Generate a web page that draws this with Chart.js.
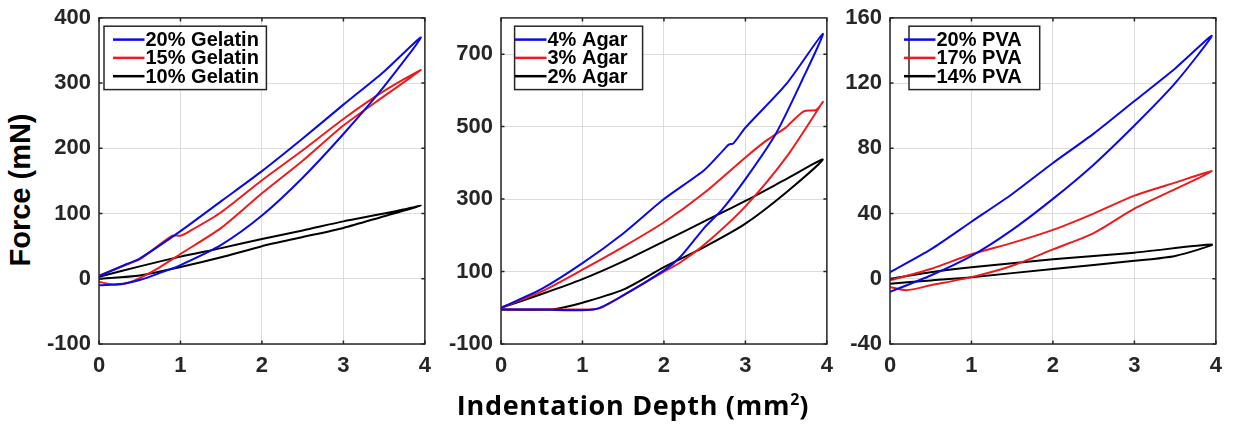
<!DOCTYPE html>
<html>
<head>
<meta charset="utf-8">
<script src="https://cdn.jsdelivr.net/npm/chart.js@4.4.0/dist/chart.umd.min.js"></script>
<style>
html, body { margin: 0; padding: 0; background: #fff; }
#wrap { position: relative; width: 1239px; height: 427px; overflow: hidden; }
canvas { position: absolute; top: 0; }
#ylab {
    position: absolute; left: 20px; top: 190px;
    transform: translate(-50%, -50%) rotate(-90deg);
    font: bold 29px "Liberation Sans", Arial, sans-serif; line-height: 1;
    white-space: nowrap; color: #000;
}
#xlab {
    position: absolute; left: 633px; top: 391px;
    transform: translateX(-50%);
    font: bold 27px "Open Sans", Lato, sans-serif; line-height: 1;
    letter-spacing: 0.7px;
    white-space: nowrap; color: #000;
}
#xlab sup { font-size: 16px; vertical-align: 10px; line-height: 0; letter-spacing: 0; }
</style>
</head>
<body>
<div id="wrap">
    <canvas id="c1" width="403" height="380" style="left:40px"></canvas>
    <canvas id="c2" width="403" height="380" style="left:442px"></canvas>
    <canvas id="c3" width="403" height="380" style="left:831px"></canvas>
    <div id="ylab">Force (mN)</div>
    <div id="xlab">Indentation Depth (mm<sup>2</sup>)</div>
</div>
<script>
// depth ticks shared by all panels
const depthTicks = [0, 1, 2, 3, 4];

// gelatin panel (loading then unloading)
const gelTicks = [-100, 0, 100, 200, 300, 400];
const gelLabels = ["20% Gelatin", "15% Gelatin", "10% Gelatin"];
const gel20Depth = [0, 0.35, 0.5, 1, 1.5, 2, 2.5, 3, 3.5, 3.95, 3.5, 3, 2.5, 2, 1.5, 1, 0.75, 0.5, 0.3, 0];
const gel20Force = [4, 23, 31, 73, 119, 165, 215, 267, 318, 370, 295, 222, 155, 97, 52, 21, 9, -2, -7.5, -10];
const gel15Depth = [0, 0.3, 0.5, 0.9, 1.0, 1.1, 1.5, 2, 2.5, 3, 3.5, 3.95, 3.5, 3, 2.5, 2, 1.5, 1, 0.75, 0.5, 0.35, 0.2, 0];
const gel15Force = [5, 20, 30, 66, 66, 72, 102, 151, 197, 245, 288, 320, 280, 235, 181, 131, 78, 38, 18, 1, -6.5, -9, -5];
const gel10Depth = [0, 0.5, 1, 1.5, 2, 2.5, 3, 3.5, 3.95, 3.5, 3, 2.5, 2, 1.5, 1, 0.5, 0];
const gel10Force = [3, 19, 34, 47, 61, 74, 88, 100, 112, 96, 78, 64, 50, 33, 18, 5, 0];

// agar panel
const agarTicks = [-100, 100, 300, 500, 700];
const agarLabels = ["4% Agar", "3% Agar", "2% Agar"];
const agar4Depth = [0, 0.5, 1, 1.5, 2, 2.5, 2.75, 2.8, 2.85, 3, 3.5, 3.95, 3.7, 3.37, 3, 2.71, 2.5, 2.2, 2, 1.5, 1.15, 0.5, 0];
const agar4Force = [0, 52, 123, 205, 300, 381, 440, 451, 453, 497, 617, 756, 630, 479, 355, 270, 222, 140, 103, 34, -4, -5, -5];
const agar3Depth = [0, 0.5, 1, 1.5, 2, 2.5, 3, 3.26, 3.5, 3.54, 3.72, 3.86, 3.9, 3.95, 3.5, 3, 2.5, 2.2, 2, 1.5, 1.25, 1.15, 0.5, 0];
const agar3Force = [0, 45, 105, 168, 236, 318, 415, 462, 498, 507, 543, 545, 552, 568, 415, 280, 175, 125, 100, 34, 2, -4, -5, -5];
const agar2Depth = [0, 0.5, 1, 1.5, 2, 2.5, 3, 3.5, 3.95, 3.5, 3, 2.5, 2, 1.5, 1, 0.75, 0.6, 0];
const agar2Force = [0, 38, 79, 128, 183, 239, 295, 355, 409, 318, 232, 168, 112, 50, 14, 0, -5, -5];

// PVA panel
const pvaTicks = [-40, 0, 40, 80, 120, 160];
const pvaLabels = ["20% PVA", "17% PVA", "14% PVA"];
const pva20Depth = [0, 0.5, 1, 1.5, 2, 2.5, 3, 3.5, 3.95, 3.5, 3, 2.5, 2, 1.5, 1, 0.5, 0];
const pva20Force = [4, 18, 35, 52, 71, 89, 109, 129, 149, 120, 94, 70, 49, 30, 14, 2, -8];
const pva17Depth = [0, 0.5, 1, 1.5, 2, 2.5, 3, 3.5, 3.95, 3.5, 3, 2.5, 2, 1.5, 1, 0.5, 0.2, 0];
const pva17Force = [-1, 6, 15, 22, 30, 40, 51, 59, 66, 55, 43, 28, 18, 8, 1, -4, -7, -5];
const pva14Depth = [0, 0.5, 1, 2, 3, 3.95, 3.5, 3, 2, 1, 0.5, 0];
const pva14Force = [0, 4, 7, 12, 16, 21, 14, 11, 6, 1, -1, -3];

const colors = ["#0a0ae6", "#ec1c1c", "#000000"];
const tickFont = { family: '"Liberation Sans", Arial, sans-serif', size: 22, weight: "bold", lineHeight: 0.9 };

// box round the plot with small inward ticks, like matlab
const framePlugin = {
    id: "frame",
    afterDatasetsDraw(chart) {
        const { ctx, chartArea: a, scales } = chart;
        ctx.save();
        ctx.strokeStyle = "#262626";
        ctx.lineWidth = 1.5;
        ctx.strokeRect(a.left, a.top, a.right - a.left, a.bottom - a.top);
        ctx.beginPath();
        scales.x.ticks.forEach((t) => {
            const px = scales.x.getPixelForValue(t.value);
            ctx.moveTo(px, a.bottom); ctx.lineTo(px, a.bottom - 3.5);
            ctx.moveTo(px, a.top); ctx.lineTo(px, a.top + 3.5);
        });
        scales.y.ticks.forEach((t) => {
            const py = scales.y.getPixelForValue(t.value);
            ctx.moveTo(a.left, py); ctx.lineTo(a.left + 3.5, py);
            ctx.moveTo(a.right, py); ctx.lineTo(a.right - 3.5, py);
        });
        ctx.stroke();
        ctx.restore();
    },
};

// legend box in the top-left corner of the plot
const boxLegend = {
    id: "boxLegend",
    afterDraw(chart, args, opts) {
        const { ctx, chartArea: a } = chart;
        const x0 = a.left + opts.left;
        const x1 = a.left + opts.right;
        const y0 = a.top + 8.3;
        const y1 = a.top + 71.7;
        ctx.save();
        ctx.fillStyle = "#fff";
        ctx.fillRect(x0, y0, x1 - x0, y1 - y0);
        ctx.strokeStyle = "#262626";
        ctx.lineWidth = 1.5;
        ctx.strokeRect(x0, y0, x1 - x0, y1 - y0);
        chart.data.datasets.forEach((ds, i) => {
            const y = a.top + 21.7 + i * 18.3;
            ctx.strokeStyle = ds.borderColor;
            ctx.lineWidth = 2.5;
            ctx.beginPath();
            ctx.moveTo(a.left + 14, y);
            ctx.lineTo(a.left + 45.5, y);
            ctx.stroke();
            ctx.fillStyle = "#000";
            ctx.font = 'bold 20px "Liberation Sans", Arial, sans-serif';
            ctx.textBaseline = "middle";
            ctx.fillText(ds.label, a.left + 46.5, y + 1);
        });
        ctx.restore();
    },
};

const makeSet = (label, depth, force, i) => ({
    label: label,
    data: depth.map((d, k) => ({ x: d, y: force[k] })),
    showLine: true,
    borderColor: colors[i],
    backgroundColor: colors[i],
    borderWidth: 2,
    pointRadius: 0,
    tension: 0.25,
    fill: false,
});

const drawPanel = (id, sets, yTicks, yMin, yMax, legendBox) => {
    const config = {
        type: "scatter",
        data: { datasets: sets },
        options: {
            responsive: false,
            animation: false,
            layout: { padding: { top: 10, right: 10, left: 0, bottom: 0 } },
            plugins: {
                legend: { display: false },
                tooltip: { enabled: false },
                boxLegend: legendBox,
            },
            scales: {
                x: {
                    type: "linear",
                    min: 0,
                    max: 4,
                    afterBuildTicks: (s) => { s.ticks = depthTicks.map((v) => ({ value: v })); },
                    afterFit: (s) => { s.height = 36; },
                    ticks: { color: "#262626", font: tickFont, padding: 12, maxRotation: 0 },
                    grid: { color: "#dcdcdc", lineWidth: 1, drawTicks: false },
                    border: { display: false },
                },
                y: {
                    type: "linear",
                    min: yMin,
                    max: yMax,
                    afterBuildTicks: (s) => { s.ticks = yTicks.map((v) => ({ value: v })); },
                    afterFit: (s) => { s.width = 59; },
                    ticks: { color: "#262626", font: tickFont, padding: 8 },
                    grid: { color: "#dcdcdc", lineWidth: 1, drawTicks: false },
                    border: { display: false },
                },
            },
        },
        plugins: [framePlugin, boxLegend],
    };
    return new Chart(document.getElementById(id), config);
};

drawPanel("c1", [
    makeSet(gelLabels[0], gel20Depth, gel20Force, 0),
    makeSet(gelLabels[1], gel15Depth, gel15Force, 1),
    makeSet(gelLabels[2], gel10Depth, gel10Force, 2),
], gelTicks, -100, 400, { left: 5, right: 167.4 });

drawPanel("c2", [
    makeSet(agarLabels[0], agar4Depth, agar4Force, 0),
    makeSet(agarLabels[1], agar3Depth, agar3Force, 1),
    makeSet(agarLabels[2], agar2Depth, agar2Force, 2),
], agarTicks, -100, 800, { left: 13.6, right: 141.6 });

drawPanel("c3", [
    makeSet(pvaLabels[0], pva20Depth, pva20Force, 0),
    makeSet(pvaLabels[1], pva17Depth, pva17Force, 1),
    makeSet(pvaLabels[2], pva14Depth, pva14Force, 2),
], pvaTicks, -40, 160, { left: 19, right: 149.7 });
</script>
</body>
</html>
